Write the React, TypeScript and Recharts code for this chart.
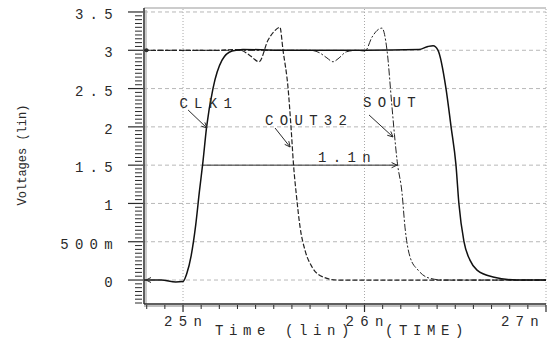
import { LineChart, Line, XAxis, YAxis, ReferenceLine, ReferenceDot } from "recharts";

// time in ns, voltage in V
const CLK1_T = [24.785, 24.88, 24.96, 25.0, 25.02, 25.045, 25.07, 25.09, 25.11, 25.13, 25.165, 25.215, 25.27, 25.33, 25.6, 26.0, 26.3, 26.35, 26.378, 26.405, 26.449, 26.477, 26.504, 26.52, 26.548, 26.581, 26.62, 26.708, 26.84, 27.0];
const CLK1_V = [0, 0, -0.025, -0.02, 0.08, 0.32, 0.72, 1.15, 1.55, 2.0, 2.5, 2.87, 2.99, 3.01, 3.0, 3.0, 3.01, 3.05, 3.06, 3.0, 2.5, 2.0, 1.5, 1.0, 0.5, 0.26, 0.13, 0.04, 0.0, 0.0];

const COUT32_T = [24.785, 25.2, 25.28, 25.32, 25.37, 25.419, 25.468, 25.5, 25.534, 25.551, 25.579, 25.595, 25.609, 25.625, 25.645, 25.672, 25.711, 25.771, 25.848, 27.0];
const COUT32_V = [3.0, 3.0, 3.01, 3.0, 2.93, 2.85, 3.13, 3.24, 3.3, 3.0, 2.5, 2.0, 1.5, 1.1, 0.69, 0.39, 0.17, 0.04, 0.0, 0.0];

const SOUT_T = [24.785, 25.7, 25.75, 25.793, 25.826, 25.86, 25.9, 25.959, 26.003, 26.041, 26.075, 26.096, 26.124, 26.15, 26.165, 26.18, 26.207, 26.223, 26.251, 26.295, 26.35, 26.433, 27.0];
const SOUT_V = [3.0, 3.0, 2.97, 2.9, 2.85, 2.9, 2.98, 3.0, 2.99, 3.17, 3.27, 3.29, 3.0, 2.3, 1.9, 1.55, 1.13, 0.69, 0.3, 0.13, 0.03, 0.0, 0.0];

const X_DOMAIN = [24.785, 27.0];
const Y_DOMAIN = [-0.313, 3.552];
const X_MAJOR = [25, 26, 27];
const X_LABELS = ["25n", "26n", "27n"];
const Y_MAJOR = [0, 0.5, 1, 1.5, 2, 2.5, 3, 3.5];
const Y_LABELS = ["0", "500m", "1", "1.5", "2", "2.5", "3", "3.5"];

// annotations: text (start x, vertical centre) and arrows
const NOTE_TEXT = ["CLK1", "COUT32", "SOUT", "1.1n"];
const NOTE_T = [24.98, 25.452, 25.992, 25.744];
const NOTE_V = [2.31, 2.09, 2.325, 1.606];
const ARROW_T1 = [25.028, 25.507, 26.025, 25.11];
const ARROW_V1 = [2.22, 1.985, 2.155, 1.5];
const ARROW_T2 = [25.132, 25.59, 26.157, 26.179];
const ARROW_V2 = [1.985, 1.737, 1.868, 1.5];

const FONT = "'Liberation Mono', monospace";
const INK = "#2a2a2a";
const FS = 14;
const LS = 6.3;

const toPoints = (ts: number[], vs: number[]) => ts.map((t, i) => ({ t, v: vs[i] }));
const clk1 = toPoints(CLK1_T, CLK1_V);
const cout32 = toPoints(COUT32_T, COUT32_V);
const sout = toPoints(SOUT_T, SOUT_V);

const xTicks: number[] = [];
for (let k = 248; k <= 270; k++) xTicks.push(k / 10);
const yTicks: number[] = [];
for (let k = -6; k <= 70; k++) yTicks.push(k / 20);

function XTick({ x, y, payload }: any) {
  const i = X_MAJOR.findIndex((m) => Math.abs(m - payload.value) < 1e-6);
  if (i < 0) return <line x1={x} x2={x} y1={y + 1} y2={y + 5} stroke={INK} />;
  const last = i === X_MAJOR.length - 1;
  return (
    <g>
      <line x1={x} x2={x} y1={y + 1} y2={y + 8} stroke={INK} strokeWidth={1.2} />
      <text
        x={last ? x - 1 : x + LS / 2}
        y={y + 22}
        textAnchor={last ? "end" : "middle"}
        fontFamily={FONT}
        fontSize={FS}
        letterSpacing={LS}
        fill={INK}
      >
        {X_LABELS[i]}
      </text>
    </g>
  );
}

function YTick({ x, y, payload }: any) {
  const i = Y_MAJOR.findIndex((m) => Math.abs(m - payload.value) < 1e-6);
  if (i < 0) return <line x1={x - 9} x2={x - 2} y1={y} y2={y} stroke={INK} />;
  return (
    <g>
      <line x1={x - 16} x2={x - 1} y1={y} y2={y} stroke={INK} strokeWidth={1.2} />
      <text x={x - 25} y={y + 7} textAnchor="end" fontFamily={FONT} fontSize={FS} letterSpacing={LS} fill={INK}>
        {Y_LABELS[i]}
      </text>
    </g>
  );
}

function Arrow({ x1, y1, x2, y2 }: any) {
  const a = Math.atan2(y2 - y1, x2 - x1);
  const h = 6;
  const p1 = [x2 - h * Math.cos(a - 0.45), y2 - h * Math.sin(a - 0.45)];
  const p2 = [x2 - h * Math.cos(a + 0.45), y2 - h * Math.sin(a + 0.45)];
  return (
    <g>
      <line x1={x1} y1={y1} x2={x2} y2={y2} stroke={INK} strokeWidth={1} />
      <polyline points={`${p1[0]},${p1[1]} ${x2},${y2} ${p2[0]},${p2[1]}`} fill="none" stroke={INK} strokeWidth={1} />
    </g>
  );
}

export default function App() {
  return (
    <div style={{ position: "absolute", left: 0, top: 0, width: 548, height: 343, background: "#fff" }}>
      <LineChart width={548} height={343} margin={{ top: 8, right: 2, left: 0, bottom: 0 }}>
        <XAxis
          dataKey="t"
          type="number"
          domain={X_DOMAIN}
          allowDataOverflow
          ticks={xTicks}
          interval={0}
          tickSize={0}
          tickMargin={0}
          tickLine={false}
          height={39}
          axisLine={{ stroke: INK, strokeWidth: 1.5 }}
          tick={XTick}
          label={({ viewBox }: any) => (
            <g fontFamily={FONT} fontSize={FS} letterSpacing={5.6} fill={INK}>
              <text x={viewBox.x + 71} y={viewBox.y + 31}>Time (lin)</text>
              <text x={viewBox.x + 241} y={viewBox.y + 31}>(TIME)</text>
            </g>
          )}
        />
        <YAxis
          type="number"
          domain={Y_DOMAIN}
          allowDataOverflow
          ticks={yTicks}
          interval={0}
          tickSize={0}
          tickMargin={0}
          tickLine={false}
          width={144}
          axisLine={{ stroke: INK, strokeWidth: 1.5 }}
          tick={YTick}
          label={({ viewBox }: any) => (
            <text
              x={23}
              y={viewBox.y + 147}
              transform={`rotate(-90 23 ${viewBox.y + 147})`}
              textAnchor="middle"
              dominantBaseline="central"
              fontFamily={FONT}
              fontSize={12}
              fill={INK}
            >
              Voltages (lin)
            </text>
          )}
        />
        {/* frame: second axis strokes and top border */}
        <ReferenceLine
          x={X_DOMAIN[0]}
          shape={(p: any) => <line x1={p.x1 + 2} x2={p.x2 + 2} y1={p.y1} y2={p.y2 + 2} stroke="#999" strokeWidth={1} />}
        />
        <ReferenceLine
          y={Y_DOMAIN[0]}
          shape={(p: any) => <line x1={p.x1} x2={p.x2} y1={p.y1 + 2} y2={p.y2 + 2} stroke="#aaa" strokeWidth={1.5} />}
        />
        <ReferenceLine y={Y_DOMAIN[1]} stroke="#999" strokeWidth={1} />
        {Y_MAJOR.map((v) => (
          <ReferenceLine key={`h${v}`} y={v} stroke="#b8b8b8" strokeDasharray="4 3" />
        ))}
        {X_MAJOR.map((t) => (
          <ReferenceLine key={`v${t}`} x={t} stroke="#a8a8a8" strokeDasharray="1 2" />
        ))}
        <Line data={sout} dataKey="v" type="monotone" stroke="#222" strokeWidth={1} strokeDasharray="7 2 2 2" dot={false} isAnimationActive={false} />
        <Line data={cout32} dataKey="v" type="monotone" stroke="#222" strokeWidth={1.2} strokeDasharray="5 2" dot={false} isAnimationActive={false} />
        <Line data={clk1} dataKey="v" type="monotone" stroke="#111" strokeWidth={1.5} dot={false} isAnimationActive={false} />
        {ARROW_T1.map((t, i) => (
          <ReferenceLine
            key={`a${i}`}
            segment={[{ x: t, y: ARROW_V1[i] }, { x: ARROW_T2[i], y: ARROW_V2[i] }]}
            shape={Arrow}
          />
        ))}
        {NOTE_TEXT.map((s, i) => (
          <ReferenceDot
            key={`n${i}`}
            x={NOTE_T[i]}
            y={NOTE_V[i]}
            shape={(p: any) => (
              <text x={p.cx} y={p.cy + 5} fontFamily={FONT} fontSize={FS} letterSpacing={LS} fill={INK}>
                {s}
              </text>
            )}
          />
        ))}
        <ReferenceDot
          x={X_DOMAIN[0]}
          y={3}
          shape={(p: any) => <circle cx={p.cx + 2.5} cy={p.cy} r={2} fill={INK} />}
        />
        <ReferenceDot
          x={X_DOMAIN[0]}
          y={0}
          shape={(p: any) => (
            <polyline points={`${p.cx + 7},${p.cy - 2.5} ${p.cx + 2},${p.cy} ${p.cx + 7},${p.cy + 2.5}`} fill="none" stroke={INK} />
          )}
        />
      </LineChart>
    </div>
  );
}
